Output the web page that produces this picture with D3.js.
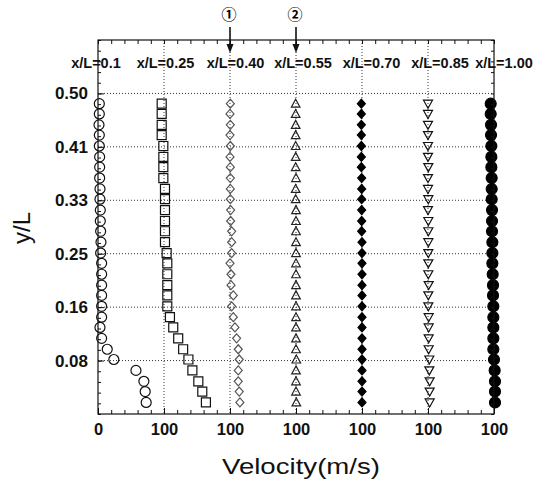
<!DOCTYPE html>
<html>
<head>
<meta charset="utf-8">
<script src="https://cdn.jsdelivr.net/npm/d3@7"></script>
<style>
  body { margin: 0; background: #fff; }
  svg { display: block; font-family: "Liberation Sans", Arial, sans-serif; }
</style>
</head>
<body>
<svg id="chart" width="542" height="480"></svg>
<script>
// stations along the channel, each profile drawn from its own gridline
const stations = ["x/L=0.1", "x/L=0.25", "x/L=0.40", "x/L=0.55", "x/L=0.70", "x/L=0.85", "x/L=1.00"];
const baseVelocity = [0, 100, 200, 300, 400, 500, 600];

// measurement heights (y/L), bottom to top
const yL = [0.018, 0.035, 0.051, 0.068, 0.085, 0.101, 0.118, 0.135, 0.151, 0.168,
            0.185, 0.201, 0.218, 0.235, 0.251, 0.268, 0.285, 0.301, 0.318, 0.335,
            0.351, 0.368, 0.385, 0.401, 0.418, 0.435, 0.451, 0.468, 0.484];

// velocity, relative to its gridline (m/s)
const u010 = [73, 71.5, 69.5, 57.5, 24, 14, 5.5, 3, 5.5, 5.5, 5.5, 5.5, 5.5, 5.5,
              4, 4.5, 4, 3.5, 3.5, 3, 3, 2.5, 2.5, 2.5, 2, 2, 1.5, 2, 2];
const u025 = [63.5, 58, 52, 43, 37, 29, 21.5, 14, 9, 5, 5, 5, 5, 5,
              4, 1.5, 1.5, 1.5, 1.5, 1.5, 1.5, -1, -1, -1, -1, -3.5, -3.5, -3.5, -3.5];
const u040 = [15, 14, 12.5, 12.5, 14, 12.5, 10, 7.5, 5, 2.5, 5, 1.5, 1.5, 0,
              2.5, 2.5, 2.5, 1, 1, 0.5, 0.5, 0.5, 0.5, 0, 0.5, 0, 0.5, 0, 0.5];
const u055 = [0.5, 0, 0, 0, 0.5, 0, 0, 0, 0, 0, 0, 0, 0, 0,
              0, 0, 0, 0, 0, -0.5, -0.5, 0, -0.5, -0.5, -0.5, -0.5, -0.5, -0.5, -0.5];
const u070 = [0, 0, 0, 0, 0, 0, 0, 0, 0, 0, 0, 0, 0, 0,
              0, 0, -0.5, -0.5, -0.5, -0.5, -0.5, -0.5, -1, -1, -1, -1, -1, -1, -1];
const u085 = [2.5, 2.5, 2.5, 2, 2, 1, 1, 1, 1, 0.5, 0.5, 1, 0.5, 0.5,
              0.5, 0.5, 0.5, 0.5, 0, 0.5, 0, 0, 0.5, 0, 0, 0, 0, 0, 0];
const u100 = [1.5, 1.5, 1.5, 1, 0, -1, -1, -1, -1, -1, -1.5, -1.5, -2, -2.5,
              -2.5, -2.5, -3, -3, -3, -3.5, -3.5, -3.5, -4, -4, -4, -4.5, -4.5, -5, -5];
const profiles = [u010, u025, u040, u055, u070, u085, u100];

// axis ticks
const xMajor = [0, 100, 200, 300, 400, 500, 600];
const xTickLabels = ["0", "100", "100", "100", "100", "100", "100"];
const yTickValues = [1 / 12, 2 / 12, 3 / 12, 4 / 12, 5 / 12, 6 / 12];
const yTickLabels = ["0.08", "0.16", "0.25", "0.33", "0.41", "0.50"];

// probe markers above the plot
const probes = [{ label: "\u2460", at: 200 }, { label: "\u2461", at: 300 }];

const plot = { left: 98, right: 494, top: 40, bottom: 414 };
const labelNudge = [-2, 1.5, 5.5, 7, 9.5, 12, 10];

const svg = d3.select("#chart");

const x = d3.scaleLinear().domain([0, 600]).range([plot.left, plot.right]);
const y = d3.scaleLinear().domain([0, 7 / 12]).range([plot.bottom, plot.top]);

// dotted grid
const grid = svg.append("g")
  .attr("stroke", "#333")
  .attr("stroke-width", 1)
  .attr("stroke-dasharray", "1,2");

grid.selectAll(".gx")
  .data(xMajor.slice(1, -1))
  .join("line")
  .attr("class", "gx")
  .attr("x1", (d) => x(d)).attr("x2", (d) => x(d))
  .attr("y1", plot.top).attr("y2", plot.bottom);

grid.selectAll(".gy")
  .data(yTickValues)
  .join("line")
  .attr("class", "gy")
  .attr("x1", plot.left).attr("x2", plot.right)
  .attr("y1", (d) => y(d)).attr("y2", (d) => y(d));

// marker styles, one per station
const styles = [
  { d: d3.symbol(d3.symbolCircle, Math.PI * 25)(), fill: "none", stroke: "#111" },
  { d: d3.symbol(d3.symbolSquare, 81)(), fill: "none", stroke: "#111" },
  { d: "M0,-4.5L4,0L0,4.5L-4,0Z", fill: "none", stroke: "#555" },
  { d: "M0,-4.5L4.3,3.5L-4.3,3.5Z", fill: "none", stroke: "#222" },
  { d: "M0,-4.5L4,0L0,4.5L-4,0Z", fill: "#000", stroke: "#000" },
  { d: "M-4.5,-3.5L4.5,-3.5L0,4.5Z", fill: "none", stroke: "#111" },
  { d: d3.symbol(d3.symbolCircle, Math.PI * 30)(), fill: "#000", stroke: "#000" },
];

stations.forEach((name, i) => {
  const pts = yL.map((v, k) => ({ yv: v, u: profiles[i][k] }));
  svg.append("g")
    .selectAll("path")
    .data(pts)
    .join("path")
    .attr("transform", (d) => `translate(${x(baseVelocity[i] + d.u)},${y(d.yv)})`)
    .attr("d", styles[i].d)
    .attr("fill", styles[i].fill)
    .attr("stroke", styles[i].stroke)
    .attr("stroke-width", 1.2);
});

// axes: ticks point inward on all four sides
function styleAxis(g, size) {
  g.select(".domain").remove();
  g.selectAll("line").attr("stroke", "#111");
  g.selectAll("text")
    .attr("font-family", null)
    .attr("font-size", size)
    .attr("font-weight", "bold")
    .attr("fill", "#111");
}

svg.append("g")
  .attr("transform", `translate(0,${plot.bottom})`)
  .call(d3.axisBottom(x).tickValues(d3.range(0, 601, 20)).tickSize(-4).tickFormat(""))
  .call((g) => styleAxis(g, 16));

svg.append("g")
  .attr("transform", `translate(0,${plot.bottom})`)
  .call(d3.axisBottom(x).tickValues(xMajor).tickSize(-6).tickPadding(9)
    .tickFormat((d, i) => xTickLabels[i]))
  .call((g) => styleAxis(g, 16.5));

svg.append("g")
  .attr("transform", `translate(0,${plot.top})`)
  .call(d3.axisTop(x).tickValues(d3.range(0, 601, 20)).tickSize(-4).tickFormat(""))
  .call((g) => styleAxis(g, 16));

svg.append("g")
  .attr("transform", `translate(${plot.left},0)`)
  .call(d3.axisLeft(y).tickValues(d3.range(0, 36).map((k) => k / 60)).tickSize(-3).tickFormat(""))
  .call((g) => styleAxis(g, 17));

svg.append("g")
  .attr("transform", `translate(${plot.left},0)`)
  .call(d3.axisLeft(y).tickValues(yTickValues).tickSize(-6).tickPadding(10)
    .tickFormat((d, i) => yTickLabels[i]))
  .call((g) => styleAxis(g, 17));

svg.append("g")
  .attr("transform", `translate(${plot.right},0)`)
  .call(d3.axisRight(y).tickValues(d3.range(0, 36).map((k) => k / 60)).tickSize(-3).tickFormat(""))
  .call((g) => styleAxis(g, 17));

// frame
svg.append("rect")
  .attr("x", plot.left).attr("y", plot.top)
  .attr("width", plot.right - plot.left).attr("height", plot.bottom - plot.top)
  .attr("fill", "none")
  .attr("stroke", "#111")
  .attr("stroke-width", 1.2);

// station labels
svg.append("g")
  .selectAll("text")
  .data(stations)
  .join("text")
  .attr("x", (d, i) => x(baseVelocity[i]) + labelNudge[i])
  .attr("y", 68)
  .attr("text-anchor", "middle")
  .attr("font-size", 14.5)
  .attr("font-weight", "bold")
  .attr("fill", "#111")
  .text((d) => d);

// probe arrows
const probeG = svg.append("g").selectAll("g").data(probes).join("g");
probeG.append("line")
  .attr("x1", (d) => x(d.at)).attr("x2", (d) => x(d.at))
  .attr("y1", 27).attr("y2", 46)
  .attr("stroke", "#111").attr("stroke-width", 1.6);
probeG.append("path")
  .attr("d", (d) => `M${x(d.at) - 3.5},44L${x(d.at) + 3.5},44L${x(d.at)},53Z`)
  .attr("fill", "#111");
probeG.append("text")
  .attr("x", (d) => x(d.at) - 1)
  .attr("y", 20)
  .attr("text-anchor", "middle")
  .attr("font-family", "'Noto Sans CJK SC', 'DejaVu Sans', sans-serif")
  .attr("font-size", 15)
  .attr("font-weight", "bold")
  .attr("fill", "#000")
  .text((d) => d.label);

// axis titles
svg.append("text")
  .attr("x", 301)
  .attr("y", 474)
  .attr("text-anchor", "middle")
  .attr("font-size", 22)
  .attr("textLength", 158)
  .attr("lengthAdjust", "spacingAndGlyphs")
  .attr("fill", "#111")
  .text("Velocity(m/s)");

svg.append("text")
  .attr("transform", "translate(22,228) rotate(-90)")
  .attr("text-anchor", "middle")
  .attr("dy", "0.35em")
  .attr("font-size", 24)
  .attr("fill", "#111")
  .text("y/L");
</script>
</body>
</html>
